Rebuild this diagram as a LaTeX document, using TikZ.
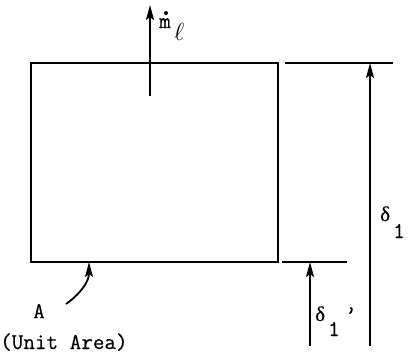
\documentclass[tikz,border=0pt]{standalone}
\usepackage{fontspec}
\setmainfont[FakeBold=0.4]{Latin Modern Mono}
\newfontfamily\greekfont[FakeBold=0.4]{Liberation Serif}
\usetikzlibrary{arrows.meta}
\tikzset{
  line/.style={line width=1.8pt},
  arr/.style={line width=1.8pt,-{Stealth[length=15pt,width=8pt,inset=3pt]}},
  lbl/.style={font=\fontsize{22.5}{24}\selectfont,inner sep=0pt},
  glbl/.style={font=\fontsize{21}{22}\selectfont\greekfont,inner sep=0pt},
}
\begin{document}
\begin{tikzpicture}[x=1pt,y=-1pt]
\useasboundingbox (0,0) rectangle (409,360);
% box
\coordinate (tl) at (31,63);
\coordinate (br) at (278,262);
\draw[line] (tl) rectangle (br);
% outflow arrow
\coordinate (m0) at (150,96);
\coordinate (m1) at (150,5);
\draw[arr] (m0) -- (m1);
\node[lbl,anchor=base west] (mdot) at (159,28) {m};
\fill (166,13) circle (2);
\node[lbl,anchor=base west] (ell) at (174,40) {\fontsize{25}{25}\selectfont$\ell$};
% reference lines
\coordinate (t0) at (285,63);
\coordinate (t1) at (393,63);
\draw[line] (t0) -- (t1);
\coordinate (b0) at (282,262);
\coordinate (b1) at (347,262);
\draw[line] (b0) -- (b1);
% dimension arrows
\coordinate (d1s) at (370,346);
\coordinate (d1e) at (370,63);
\draw[arr] (d1s) -- (d1e);
\coordinate (d2s) at (310,346);
\coordinate (d2e) at (310,262);
\draw[arr] (d2s) -- (d2e);
\node[glbl,anchor=base west] (delta1) at (380,221) {δ};
\node[lbl,anchor=base west] (one1) at (393,238) {1};
\node[glbl,anchor=base west] (delta2) at (315,321) {δ};
\node[lbl,anchor=base west] (one2) at (328,336) {1};
\node[lbl,anchor=base west] (prime) at (345,321) {'};
% A label
\node[lbl,anchor=base west] (A) at (33,318) {A};
\node[lbl,anchor=base west] (unit) at (0,349) {(Unit Area)};
\coordinate (a0) at (66,304);
\coordinate (a1) at (89,262);
\draw[arr] (a0) .. controls (80,294) and (89,282) .. (a1);
\end{tikzpicture}
\end{document}
